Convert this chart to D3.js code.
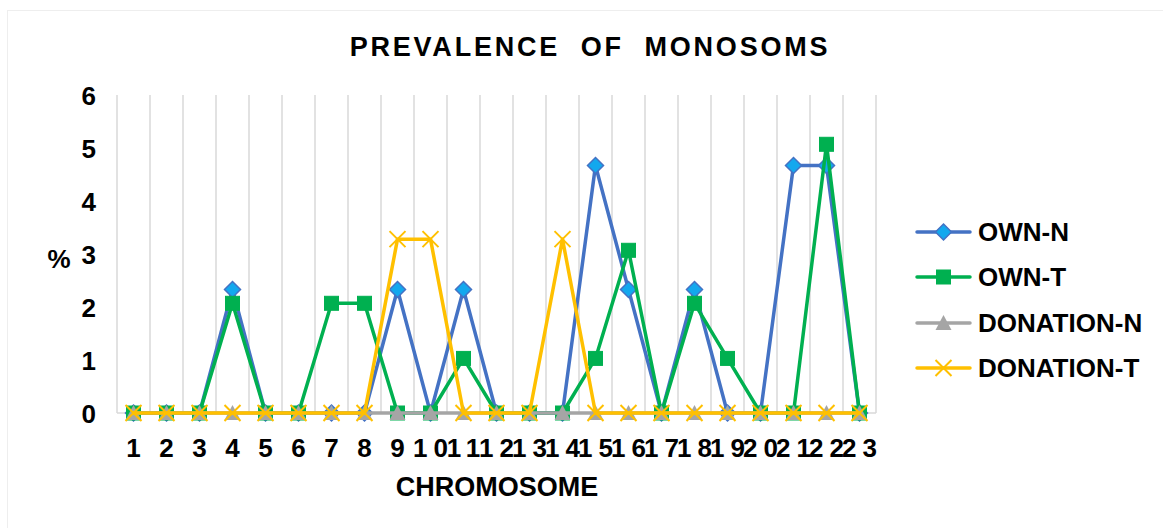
<!DOCTYPE html>
<html><head><meta charset="utf-8">
<script src="https://cdn.jsdelivr.net/npm/d3@7/dist/d3.min.js"></script>
<style>
html,body{margin:0;padding:0;background:#fff;}
text{font-family:Arial,"Liberation Sans",sans-serif;font-weight:bold;fill:#000;}
</style></head>
<body><svg id="c" width="1163" height="528"></svg>
<script>
const categories = ["1","2","3","4","5","6","7","8","9","10","11","12","13","14","15","16","17","18","19","20","21","22","23"];
const ownN      = [0,0,0,2.33,0,0,0,0,2.33,0,2.33,0,0,0,4.67,2.33,0,2.33,0,0,4.67,4.67,0];
const ownT      = [0,0,0,2.07,0,0,2.07,2.07,0,0,1.03,0,0,0,1.03,3.07,0,2.07,1.03,0,0,5.07,0];
const donationN = [0,0,0,0,0,0,0,0,0,0,0,0,0,0,0,0,0,0,0,0,0,0,0];
const donationT = [0,0,0,0,0,0,0,0,3.28,3.28,0,0,0,3.28,0,0,0,0,0,0,0,0,0];
const yTicks = [0,1,2,3,4,5,6];
const seriesNames = ["OWN-N","OWN-T","DONATION-N","DONATION-T"];

const series = [
  {name:seriesNames[0], values:ownN, color:"#4472C4", marker:"diamond", fill:"#13A8EE"},
  {name:seriesNames[1], values:ownT, color:"#00B050", marker:"square", fill:"#00B050"},
  {name:seriesNames[2], values:donationN, color:"#A5A5A5", marker:"triangle", fill:"#A5A5A5"},
  {name:seriesNames[3], values:donationT, color:"#FFC000", marker:"cross", fill:"none"}
];

const svg = d3.select("#c");
svg.append("rect").attr("x",7.5).attr("y",10.5).attr("width",1200).attr("height",600)
  .attr("fill","none").attr("stroke","#eeeeee").attr("stroke-width",1);

const x = d3.scaleBand().domain(categories).range([117,876]).padding(0);
const y = d3.scaleLinear().domain([0,6]).range([413,95]);
const cx = d => x(d) + x.bandwidth()/2;

const g = svg.append("g");
const bounds = categories.map(c => x(c)).concat([x.range()[1]]);
g.selectAll("line.grid").data(bounds).enter().append("line")
  .attr("x1",d=>d).attr("x2",d=>d).attr("y1",y(6)).attr("y2",y(0))
  .attr("stroke","#d9d9d9").attr("stroke-width",1.5);
g.append("line").attr("x1",117).attr("x2",876).attr("y1",y(0)).attr("y2",y(0))
  .attr("stroke","#d9d9d9").attr("stroke-width",1.5);

const yAxis = d3.axisLeft(y).tickValues(yTicks).tickSize(0).tickPadding(0).tickFormat(d3.format("d"));
const ya = svg.append("g").attr("transform","translate(96,0)").call(yAxis);
ya.select(".domain").remove();
ya.selectAll("text").style("font-size","26px").style("font-family","Arial, 'Liberation Sans', sans-serif")
  .style("font-weight","bold").attr("fill","#000").attr("dy","0.35em");

const xAxis = d3.axisBottom(x).tickSize(0).tickPadding(0);
const xa = svg.append("g").attr("transform","translate(0,438)").call(xAxis);
xa.select(".domain").remove();
xa.selectAll("text").style("font-size","26px").style("font-family","Arial, 'Liberation Sans', sans-serif")
  .style("font-weight","bold").style("letter-spacing","6px").attr("fill","#000")
  .attr("dy","0.72em").attr("dx","3px").attr("y",0);

svg.append("text").attr("x",590).attr("y",56).attr("text-anchor","middle")
  .style("font-size","27px").style("letter-spacing","2.8px").attr("xml:space","preserve")
  .text("PREVALENCE  OF  MONOSOMS");
svg.append("text").attr("x",497).attr("y",496).attr("text-anchor","middle")
  .style("font-size","27px").text("CHROMOSOME");
svg.append("text").attr("x",59).attr("y",268).attr("text-anchor","middle")
  .style("font-size","26px").text("%");

function drawMarker(sel, type, s, px, py){
  if(type==="diamond"){
    sel.append("path").attr("d",`M${px},${py-8}L${px+8},${py}L${px},${py+8}L${px-8},${py}Z`)
      .attr("fill",s.fill).attr("stroke",s.color).attr("stroke-width",1.5);
  } else if(type==="square"){
    sel.append("rect").attr("x",px-7).attr("y",py-7).attr("width",14).attr("height",14)
      .attr("fill",s.fill).attr("stroke",s.color).attr("stroke-width",1);
  } else if(type==="triangle"){
    sel.append("path").attr("d",`M${px},${py-8}L${px+8},${py+7}L${px-8},${py+7}Z`)
      .attr("fill",s.fill);
  } else {
    sel.append("path").attr("d",`M${px-8},${py-8}L${px+8},${py+8}M${px-8},${py+8}L${px+8},${py-8}`)
      .attr("stroke",s.color).attr("stroke-width",2).attr("fill","none");
  }
}

const line = d3.line().x((d,i)=>cx(categories[i])).y(d=>y(d));
series.forEach(s=>{
  const sg = svg.append("g");
  sg.append("path").datum(s.values).attr("d",line).attr("fill","none")
    .attr("stroke",s.color).attr("stroke-width",3.5).attr("stroke-linejoin","round").attr("stroke-linecap","round");
  s.values.forEach((v,i)=>drawMarker(sg, s.marker, s, cx(categories[i]), y(v)));
});

const legY = [232,277,323,368];
series.forEach((s,i)=>{
  const lg = svg.append("g");
  lg.append("line").attr("x1",917).attr("x2",970).attr("y1",legY[i]).attr("y2",legY[i])
    .attr("stroke",s.color).attr("stroke-width",3.5).attr("stroke-linecap","round");
  drawMarker(lg, s.marker, s, 943.5, legY[i]);
  lg.append("text").attr("x",978).attr("y",legY[i]).attr("dy","0.35em")
    .style("font-size","26px").text(s.name);
});
</script></body></html>
